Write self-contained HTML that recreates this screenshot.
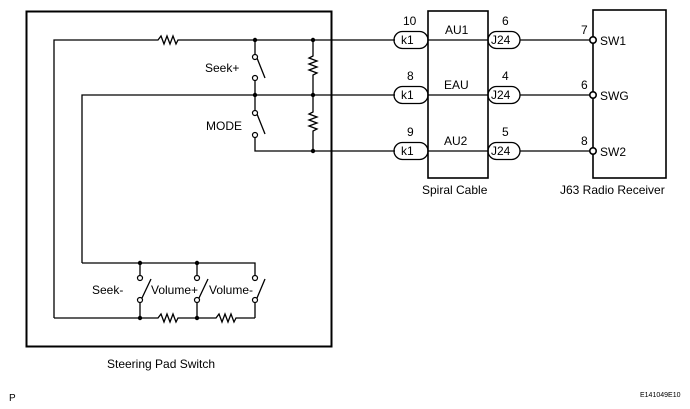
<!DOCTYPE html>
<html><head><meta charset="utf-8"><style>
body{margin:0;background:#fff}
svg{display:block}
text{font-family:"Liberation Sans",Arial,sans-serif;fill:#000}
</style></head><body>
<svg width="690" height="409" viewBox="0 0 690 409" xmlns="http://www.w3.org/2000/svg">
<g fill="none" stroke="#000" stroke-width="1.3">
<rect x="26.5" y="11.5" width="305" height="335" stroke-width="2"/>
<path d="M54 318 V40 H158 l3 -4 l3 8 l3 -8 l3 8 l3 -8 l3 8 l2 -4 H395"/>
<path d="M82 263 V95 H395"/>
<path d="M255 40 V54 M255 81 V95 M255 95 V110 M255 138 V151 H395"/>
<path d="M257 58 L265 78 M257 114 L265 134"/>
<path d="M313 40 V56 l-4 2 l8 3 l-8 3 l8 3 l-8 3 l8 3 l-4 2 V112 l-4 2 l8 3 l-8 3 l8 3 l-8 3 l8 3 l-4 2 V151"/>
<path d="M82 263 H255 V275 M140 263 V275 M197 263 V275"/>
<path d="M140 303 V318 M197 303 V318 M255 303 V318"/>
<path d="M54 318 H158 l3 -4 l3 8 l3 -8 l3 8 l3 -8 l3 8 l2 -4 H216 l3 -4 l3 8 l3 -8 l3 8 l3 -8 l3 8 l2 -4 H255"/>
<path d="M142 298 L151 279 M199 298 L208 279 M257 298 L265 279"/>
<rect x="394" y="31.5" width="34" height="17" rx="8.5"/>
<rect x="394" y="86.5" width="34" height="17" rx="8.5"/>
<rect x="394" y="142.5" width="34" height="17" rx="8.5"/>
<rect x="428" y="11" width="60" height="167" stroke-width="1.6"/>
<path d="M428 40 H488 M428 95 H488 M428 151 H488"/>
<rect x="488" y="31.5" width="32" height="17" rx="8.5"/>
<rect x="488" y="86.5" width="32" height="17" rx="8.5"/>
<rect x="488" y="142.5" width="32" height="17" rx="8.5"/>
<path d="M520 40 H590 M520 95 H590 M520 151 H590"/>
<rect x="593" y="10" width="73" height="168" stroke-width="1.6"/>
</g>
<g fill="#000">
<circle cx="255" cy="40" r="2.2"/><circle cx="313" cy="40" r="2.2"/>
<circle cx="255" cy="95" r="2.2"/><circle cx="313" cy="95" r="2.2"/>
<circle cx="313" cy="151" r="2.2"/>
<circle cx="140" cy="263" r="2.2"/><circle cx="197" cy="263" r="2.2"/>
<circle cx="140" cy="318" r="2.2"/><circle cx="197" cy="318" r="2.2"/>
</g>
<g fill="#fff" stroke="#000" stroke-width="1.2">
<circle cx="255" cy="57" r="2.5"/><circle cx="255" cy="78" r="2.5"/>
<circle cx="255" cy="113" r="2.5"/><circle cx="255" cy="135" r="2.5"/>
<circle cx="140" cy="278" r="2.5"/><circle cx="140" cy="300" r="2.5"/>
<circle cx="197" cy="278" r="2.5"/><circle cx="197" cy="300" r="2.5"/>
<circle cx="255" cy="278" r="2.5"/><circle cx="255" cy="300" r="2.5"/>
<circle cx="593" cy="40" r="3.2" stroke-width="1.6"/><circle cx="593" cy="95" r="3.2" stroke-width="1.6"/><circle cx="593" cy="151" r="3.2" stroke-width="1.6"/>
</g>
<g font-size="12">
<text x="205" y="72">Seek+</text>
<text x="206" y="130">MODE</text>
<text x="92" y="294">Seek-</text>
<text x="151" y="294">Volume+</text>
<text x="209" y="294">Volume-</text>
<text x="107" y="368">Steering Pad Switch</text>
<text x="422" y="194">Spiral Cable</text>
<text x="560" y="194">J63 Radio Receiver</text>
<text x="401" y="44">k1</text><text x="401" y="99">k1</text><text x="401" y="155">k1</text>
<text x="491" y="44">J24</text><text x="491" y="99">J24</text><text x="491" y="155">J24</text>
<text x="445" y="34">AU1</text><text x="444" y="89">EAU</text><text x="444" y="145">AU2</text>
<text x="600" y="45">SW1</text><text x="600" y="100">SWG</text><text x="600" y="156">SW2</text>
<text x="403" y="25">10</text><text x="407" y="80">8</text><text x="407" y="136">9</text>
<text x="502" y="25">6</text><text x="502" y="80">4</text><text x="502" y="136">5</text>
<text x="581" y="34">7</text><text x="581" y="89">6</text><text x="581" y="145">8</text>
<text x="9" y="401" font-size="10">P</text>
<text x="640" y="397" font-size="7">E141049E10</text>
</g>
</svg>
</body></html>
